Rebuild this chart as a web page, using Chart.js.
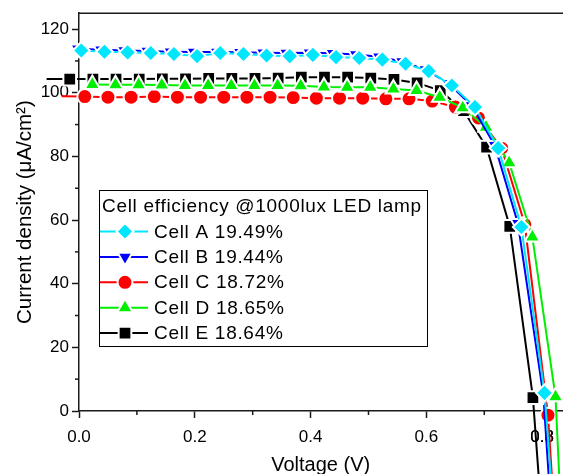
<!DOCTYPE html>
<html>
<head>
<meta charset="utf-8">
<script src="https://cdn.jsdelivr.net/npm/chart.js@4/dist/chart.umd.min.js"></script>
<style>
  html, body { margin: 0; padding: 0; background: #fff; }
  #wrap { width: 563px; height: 474px; }
</style>
</head>
<body>
<div id="wrap"><canvas id="c" width="563" height="474"></canvas></div>
<script>
// ---------------- data ----------------
const seriesLabels = ['Cell A 19.49%', 'Cell B 19.44%', 'Cell C 18.72%', 'Cell D 18.65%', 'Cell E 18.64%'];
const legendTitle = 'Cell efficiency @1000lux LED lamp';

const cellA_V = [0.004,0.044,0.084,0.124,0.164,0.204,0.244,0.284,0.324,0.364,0.404,0.444,0.484,0.524,0.564,0.604,0.644,0.684,0.724,0.764,0.804,0.844];
const cellA_J = [113.3,112.9,112.7,112.5,112.2,111.5,112.5,112.2,111.7,111.5,111.9,111.2,110.9,110.4,109.1,106.8,102.3,95.5,82.6,57.8,5.7,-90];

const cellB_V = [-0.002,0.038,0.078,0.118,0.158,0.198,0.238,0.278,0.318,0.358,0.398,0.438,0.478,0.518,0.558,0.598,0.638,0.678,0.718,0.758,0.802,0.842];
const cellB_J = [113.8,113.5,113.3,113.1,112.9,112.8,112.8,112.7,112.6,112.5,112.6,112.4,112.0,111.3,109.8,107.3,103.0,96.0,83.5,59.0,5.0,-105];

const cellC_V = [-0.03,0.01,0.05,0.09,0.13,0.17,0.21,0.25,0.29,0.33,0.37,0.41,0.45,0.49,0.53,0.57,0.61,0.65,0.69,0.73,0.77,0.81,0.85];
const cellC_J = [98.9,98.8,98.6,98.6,98.8,98.6,98.6,98.6,98.6,98.6,98.5,98.3,98.3,98.3,98.1,98.1,97.4,95.5,92.1,82.6,58.6,-1.3,-115];

const cellD_V = [0.023,0.063,0.103,0.143,0.183,0.223,0.263,0.303,0.343,0.383,0.423,0.463,0.503,0.543,0.583,0.623,0.663,0.703,0.743,0.783,0.823,0.863];
const cellD_J = [102.6,102.5,102.5,102.4,102.3,102.3,102.3,102.3,102.3,102.2,101.8,101.7,101.7,101.2,100.7,98.6,95.3,89.2,78.0,54.7,4.5,-150];

const cellE_V = [-0.056,-0.016,0.024,0.064,0.104,0.144,0.184,0.224,0.264,0.304,0.344,0.384,0.424,0.464,0.504,0.544,0.584,0.624,0.664,0.704,0.744,0.784,0.824];
const cellE_J = [104.3,104.3,104.3,104.3,104.3,104.4,104.4,104.5,104.5,104.5,104.6,104.9,104.9,104.9,104.6,104.2,103.1,100.7,94.4,82.9,58.0,4.2,-95];

const xTickLabels = ['0.0','0.2','0.4','0.6','0.8'];
const yTickLabels = ['0','20','40','60','80','100','120'];

// ---------------- styling / layout ----------------
const X_MIN = 0, X_MAX = 0.835, Y_MIN = 0, Y_MAX = 125;
const FONT = '"Liberation Sans", Arial, sans-serif';
const AXIS_COLOR = '#1a1a1a';

function pts(vs, js) { return vs.map((v, i) => ({ x: v, y: js[i] })); }

function makeSet(label, data, color, style, radius, rotation, order) {
  return {
    label, data, order,
    borderColor: color, backgroundColor: color, borderWidth: 2,
    pointStyle: style, pointRadius: radius, pointRotation: rotation || 0,
    pointBackgroundColor: color, pointBorderColor: '#ffffff', pointBorderWidth: 2,
    pointHoverRadius: radius, tension: 0, clip: false, fill: false
  };
}

const datasets = [
  makeSet(seriesLabels[0], pts(cellA_V, cellA_J), '#00e6ff', 'rectRot', 8.5, 0, 1),
  makeSet(seriesLabels[1], pts(cellB_V, cellB_J), '#0000ff', 'triangle', 8.5, 180, 2),
  makeSet(seriesLabels[2], pts(cellC_V, cellC_J), '#ff0000', 'circle', 7.5, 0, 4),
  makeSet(seriesLabels[3], pts(cellD_V, cellD_J), '#00ee00', 'triangle', 9, 0, 3),
  makeSet(seriesLabels[4], pts(cellE_V, cellE_J), '#000000', 'rect', 9, 0, 5)
];

const isMajorX = v => Math.abs(Math.round(v * 10) % 2) === 0;
const isMajorY = v => Math.round(v) % 20 === 0;

const framePlugin = {
  id: 'frame',
  beforeDatasetsDraw(chart) {
    const { ctx, chartArea: ca, scales } = chart;
    ctx.save();
    ctx.strokeStyle = AXIS_COLOR;
    ctx.lineWidth = 1.5;
    ctx.beginPath(); ctx.moveTo(ca.left, ca.top); ctx.lineTo(ca.right + 2, ca.top); ctx.stroke();
    scales.x.ticks.forEach(t => {
      if (!isMajorX(t.value) && t.value <= X_MAX) {
        const px = scales.x.getPixelForValue(t.value);
        ctx.beginPath(); ctx.moveTo(px, ca.bottom); ctx.lineTo(px, ca.bottom + 4); ctx.stroke();
      }
    });
    scales.y.ticks.forEach(t => {
      if (!isMajorY(t.value)) {
        const py = scales.y.getPixelForValue(t.value);
        ctx.beginPath(); ctx.moveTo(ca.left, py); ctx.lineTo(ca.left - 4, py); ctx.stroke();
      }
    });
    ctx.restore();
  }
};

const LEG = { x: 99, y: 190, w: 328, h: 156, titleX: 102, titleBase: 212, lineX1: 100, lineX2: 148, markX: 125, textX: 154, firstBase: 237.5, step: 25.4 };

const legendPlugin = {
  id: 'boxLegend',
  afterDraw(chart) {
    const ctx = chart.ctx;
    ctx.save();
    ctx.fillStyle = '#fff';
    ctx.fillRect(LEG.x, LEG.y, LEG.w, LEG.h);
    ctx.strokeStyle = '#000'; ctx.lineWidth = 1;
    ctx.strokeRect(LEG.x + 0.5, LEG.y + 0.5, LEG.w, LEG.h);
    ctx.font = '19px ' + FONT;
    try { ctx.letterSpacing = '0.7px'; } catch (e) {}
    ctx.fillStyle = '#000'; ctx.textBaseline = 'alphabetic'; ctx.textAlign = 'left';
    ctx.fillText(legendTitle, LEG.titleX, LEG.titleBase);
    chart.data.datasets.forEach((ds, i) => {
      const base = LEG.firstBase + i * LEG.step;
      const cy = base - 6;
      ctx.strokeStyle = ds.borderColor; ctx.lineWidth = ds.borderWidth;
      ctx.beginPath(); ctx.moveTo(LEG.lineX1, cy); ctx.lineTo(LEG.lineX2, cy); ctx.stroke();
      ctx.fillStyle = ds.pointBackgroundColor; ctx.strokeStyle = ds.pointBorderColor; ctx.lineWidth = ds.pointBorderWidth;
      Chart.helpers.drawPoint(ctx, { pointStyle: ds.pointStyle, rotation: ds.pointRotation, radius: ds.pointRadius, borderWidth: ds.pointBorderWidth }, LEG.markX, cy);
      ctx.fillStyle = '#000';
      ctx.fillText(ds.label, LEG.textX, base);
    });
    ctx.restore();
  }
};

new Chart(document.getElementById('c'), {
  type: 'line',
  data: { datasets },
  options: {
    responsive: false,
    animation: false,
    events: [],
    layout: { autoPadding: false, padding: { left: 0, right: 0, top: 13, bottom: 0 } },
    plugins: { legend: { display: false }, tooltip: { enabled: false } },
    scales: {
      x: {
        type: 'linear',
        bounds: 'data',
        afterDataLimits(s) { s.min = X_MIN; s.max = X_MAX; },
        afterBuildTicks(s) { s.ticks = s.ticks.filter(t => t.value <= X_MAX + 1e-9 && t.value >= X_MIN - 1e-9); },
        afterFit(s) { s.height = 63; },
        ticks: {
          stepSize: 0.1, includeBounds: false, autoSkip: false, maxRotation: 0, padding: 9,
          color: '#000', font: { family: FONT, size: 17 },
          callback: v => isMajorX(v) ? xTickLabels[Math.round(v * 5)] : ''
        },
        grid: {
          drawOnChartArea: false, drawTicks: true, tickLength: 7, tickWidth: 1.5,
          tickColor: c => (c.tick && isMajorX(c.tick.value)) ? AXIS_COLOR : 'rgba(0,0,0,0)'
        },
        border: { display: true, color: AXIS_COLOR, width: 1.5 },
        title: { display: true, text: 'Voltage (V)', color: '#000', font: { family: FONT, size: 20, lineHeight: 0.9 }, padding: { top: 0, bottom: 0 } }
      },
      y: {
        type: 'linear',
        min: Y_MIN, max: Y_MAX,
        afterFit(s) { s.width = 79; },
        ticks: {
          stepSize: 10, includeBounds: false, padding: 3,
          color: '#000', font: { family: FONT, size: 17 },
          callback: v => isMajorY(v) ? yTickLabels[Math.round(v / 20)] : ''
        },
        grid: {
          drawOnChartArea: false, drawTicks: true, tickLength: 7, tickWidth: 1.5,
          tickColor: c => (c.tick && isMajorY(c.tick.value)) ? AXIS_COLOR : 'rgba(0,0,0,0)'
        },
        border: { display: true, color: AXIS_COLOR, width: 1.5 },
        title: { display: true, text: 'Current density (μA/cm²)', color: '#000', font: { family: FONT, size: 20.5, lineHeight: 1.2 }, padding: { top: 13, bottom: 0 } }
      }
    }
  },
  plugins: [framePlugin, legendPlugin]
});
</script>
</body>
</html>
